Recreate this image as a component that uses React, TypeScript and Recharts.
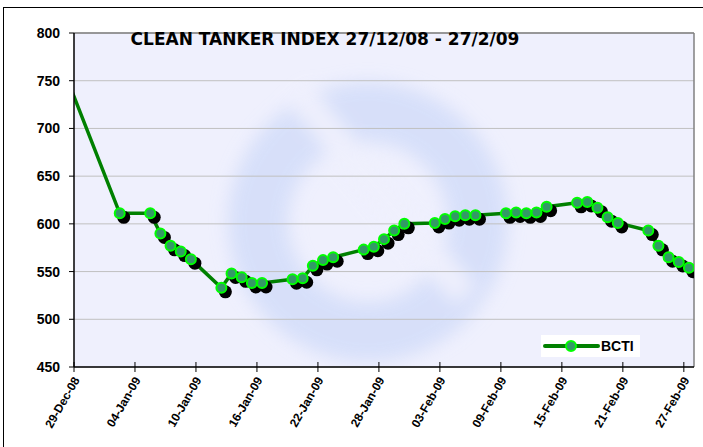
import React from "react"
import { LineChart, Line, XAxis, YAxis, CartesianGrid, ReferenceLine, Legend } from "recharts"

// trading days and index values
const pointDates = [
  "28-Dec-08",
  "02-Jan-09", "05-Jan-09", "06-Jan-09", "07-Jan-09", "08-Jan-09", "09-Jan-09",
  "12-Jan-09", "13-Jan-09", "14-Jan-09", "15-Jan-09", "16-Jan-09",
  "19-Jan-09", "20-Jan-09", "21-Jan-09", "22-Jan-09", "23-Jan-09",
  "26-Jan-09", "27-Jan-09", "28-Jan-09", "29-Jan-09", "30-Jan-09",
  "02-Feb-09", "03-Feb-09", "04-Feb-09", "05-Feb-09", "06-Feb-09",
  "09-Feb-09", "10-Feb-09", "11-Feb-09", "12-Feb-09", "13-Feb-09",
  "16-Feb-09", "17-Feb-09", "18-Feb-09", "19-Feb-09", "20-Feb-09",
  "23-Feb-09", "24-Feb-09", "25-Feb-09", "26-Feb-09", "27-Feb-09",
]
const bcti = [
  747,
  611, 611, 590, 577, 571, 563,
  533, 548, 544, 538, 538,
  542, 543, 556, 562, 565,
  573, 576, 584, 593, 600,
  601, 605, 608, 609, 609,
  611, 612, 611, 612, 618,
  622, 623, 617, 607, 601,
  593, 577, 565, 560, 554,
]
const tickLabels = [
  "29-Dec-08", "04-Jan-09", "10-Jan-09", "16-Jan-09", "22-Jan-09", "28-Jan-09",
  "03-Feb-09", "09-Feb-09", "15-Feb-09", "21-Feb-09", "27-Feb-09",
]
const yTicks = [450, 500, 550, 600, 650, 700, 750, 800]

const MONTHS: Record<string, number> = { Dec: 11, Jan: 0, Feb: 1 }
const toDay = (s: string) => {
  const [d, m, y] = s.split("-")
  return Date.UTC(2000 + Number(y), MONTHS[m], Number(d)) / 86400000
}
const origin = toDay(tickLabels[0])

const data = pointDates.map((d, i) => ({
  date: d,
  day: toDay(d) - origin + 0.5, // excel puts points mid-day
  bcti: bcti[i],
}))
const xTicks = tickLabels.map((t) => toDay(t) - origin)

const W = 703
const H = 447
const PL = 74
const PT = 33
const PR = 694
const PB = 367

const ARIAL = "'Liberation Sans', Arial, sans-serif"

const XTick = (props: any) => {
  const { x, y, payload } = props
  const i = xTicks.indexOf(payload.value)
  const tx = x + 6
  const ty = y + 13
  return (
    <g>
      <line x1={x} x2={x} y1={y - 5} y2={y + 5} stroke="#000" />
      <text
        x={tx}
        y={ty}
        textAnchor="end"
        transform={`rotate(-60 ${tx} ${ty})`}
        style={{ fontFamily: ARIAL, fontWeight: 700, fontSize: 12 }}
        fill="#000"
      >
        {tickLabels[i]}
      </text>
    </g>
  )
}

const YTick = (props: any) => {
  const { x, y, payload } = props
  return (
    <text
      x={x}
      y={y}
      dy={5}
      textAnchor="end"
      style={{ fontFamily: ARIAL, fontWeight: 700, fontSize: 14 }}
      fill="#000"
    >
      {payload.value}
    </text>
  )
}

const ShadowDot = (props: any) => {
  const { cx, cy, index, payload } = props
  if (payload.day < 0) return <g key={"s" + index} />
  return <circle key={"s" + index} cx={cx + 4} cy={cy + 4} r={6.5} fill="#000" />
}

const MarkerDot = (props: any) => {
  const { cx, cy, index, payload } = props
  if (payload.day < 0) return <g key={"m" + index} />
  return (
    <circle key={"m" + index} cx={cx} cy={cy} r={5} fill="#339966" stroke="#00FF00" strokeWidth={2} />
  )
}

const LegendBox = () => (
  <div style={{ background: "#fff", width: 99, height: 22, display: "flex", alignItems: "center" }}>
    <svg width={60} height={22}>
      <line x1={4} x2={57} y1={11} y2={11} stroke="#008000" strokeWidth={4} strokeLinecap="round" />
      <circle cx={30} cy={11} r={5} fill="#339966" stroke="#00FF00" strokeWidth={2} />
    </svg>
    <span style={{ fontFamily: ARIAL, fontWeight: 700, fontSize: 14, color: "#000" }}>BCTI</span>
  </div>
)

export default function App() {
  return (
    <div style={{ position: "fixed", left: 0, top: 0, width: W, height: H, background: "#fff" }}>
      <svg width={W} height={H} style={{ position: "absolute", left: 0, top: 0 }}>
        <defs>
          <clipPath id="plotClip">
            <rect x={PL} y={PT} width={PR - PL} height={PB - PT} />
          </clipPath>
          <filter id="soft" x="-50%" y="-50%" width="200%" height="200%">
            <feGaussianBlur stdDeviation="9" />
          </filter>
        </defs>
        <rect x={PL} y={PT} width={PR - PL} height={PB - PT} fill="#EFF0FD" />
        {/* faint logo watermark */}
        <g clipPath="url(#plotClip)">
          <g filter="url(#soft)" opacity={0.85}>
            <circle cx={368} cy={222} r={110} fill="none" stroke="#D3DDF9" strokeWidth={60} />
            <path d="M 300 95 L 465 295" stroke="#EFF0FD" strokeWidth={28} />
          </g>
        </g>
      </svg>
      <div style={{ position: "absolute", left: 0, top: 0 }}>
        <LineChart width={W} height={H} data={data} margin={{ top: PT, right: W - PR, bottom: 0, left: 14 }}>
          <CartesianGrid vertical={false} stroke="#C0C0C0" />
          <XAxis
            type="number"
            dataKey="day"
            domain={[0, 61]}
            allowDataOverflow
            ticks={xTicks}
            interval={0}
            tick={<XTick />}
            tickLine={false}
            tickSize={0}
            tickMargin={0}
            height={H - PB}
            axisLine={{ stroke: "#000", strokeWidth: 1.5 }}
          />
          <YAxis
            type="number"
            domain={[450, 800]}
            ticks={yTicks}
            interval={0}
            width={60}
            tickSize={5}
            tickMargin={9}
            tickLine={{ stroke: "#000" }}
            axisLine={{ stroke: "#000", strokeWidth: 1.5 }}
            tick={<YTick />}
          />
          <ReferenceLine y={800} stroke="#808080" strokeWidth={1.5} />
          <ReferenceLine x={61} stroke="#808080" strokeWidth={1.5} />
          <Line
            dataKey="bcti"
            stroke="none"
            dot={ShadowDot}
            activeDot={false}
            legendType="none"
            isAnimationActive={false}
          />
          <Line
            dataKey="bcti"
            name="BCTI"
            stroke="#008000"
            strokeWidth={3.5}
            dot={MarkerDot}
            activeDot={false}
            isAnimationActive={false}
          />
          <Legend
            layout="vertical"
            align="center"
            verticalAlign="middle"
            content={<LegendBox />}
            wrapperStyle={{ left: 541, top: 335, width: 99, height: 22 }}
          />
        </LineChart>
      </div>
      <svg width={W} height={H} style={{ position: "absolute", left: 0, top: 0, pointerEvents: "none" }}>
        <line x1={3.5} x2={3.5} y1={7} y2={H} stroke="#000" />
        <line x1={3} x2={W} y1={7.5} y2={7.5} stroke="#000" />
        <text
          x={325}
          y={45}
          textAnchor="middle"
          style={{ fontFamily: "'DejaVu Sans', Verdana, sans-serif", fontWeight: 700, fontSize: 17 }}
          fill="#000"
        >
          CLEAN TANKER INDEX 27/12/08 - 27/2/09
        </text>
      </svg>
    </div>
  )
}
